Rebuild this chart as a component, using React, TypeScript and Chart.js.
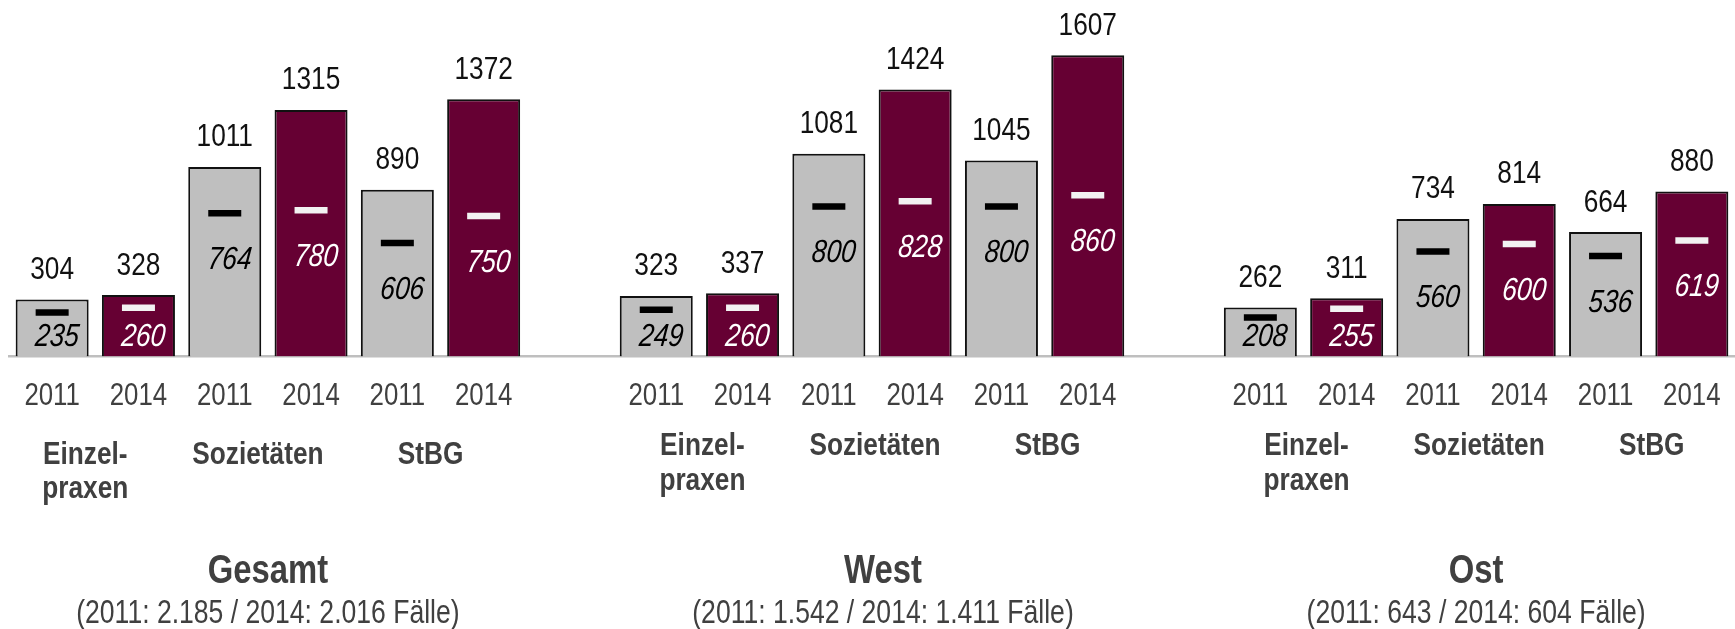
import React, { useEffect, useRef } from "react";
import { Chart, registerables } from "chart.js";

Chart.register(...registerables);

// ---- data ----
const groups = ["Gesamt", "West", "Ost"];
const groupCases = [
  "(2011: 2.185 / 2014: 2.016 Fälle)",
  "(2011: 1.542 / 2014: 1.411 Fälle)",
  "(2011: 643 / 2014: 604 Fälle)",
];
const practiceTypes = [["Einzel-", "praxen"], ["Sozietäten"], ["StBG"]];
const years = ["2011", "2014"];
// mean values, group-major: Gesamt (Einzel, Soz, StBG), West (...), Ost (...)
const mean2011 = [304, 1011, 890, 323, 1081, 1045, 262, 734, 664];
const mean2014 = [328, 1315, 1372, 337, 1424, 1607, 311, 814, 880];
// medians
const median2011 = [235, 764, 606, 249, 800, 800, 208, 560, 536];
const median2014 = [260, 780, 750, 260, 828, 860, 255, 600, 619];

// ---- styling / layout ----
const GRAY = "#BFBFBF";
const MAROON = "#660033";
const TEXT = "#404040";
const FONT = '"Liberation Sans", Arial, sans-serif';
const NARROW = 0.82; // horizontal compression -> Arial-Narrow-like text
const BASELINE_Y = 356.5;
const CANVAS_H = 629;
const catLabelShift = [
  { dx: -10, dy: 8.5 },
  { dx: 3, dy: 0 },
  { dx: 3, dy: 0 },
];
const titleShift = [0, 11, 0];

type Slot = { g: number; t: number; y: number } | null;
const slots: Slot[] = [];
groups.forEach((_, g) => {
  if (g > 0) slots.push(null);
  practiceTypes.forEach((_, t) => {
    years.forEach((_, y) => slots.push({ g, t, y }));
  });
});
const slotLabels = slots.map((s) => (s ? years[s.y] : ""));
const pick = (arr: number[], yi: number) =>
  slots.map((s) => (s && s.y === yi ? arr[s.g * 3 + s.t] : null));

function drawText(
  ctx: CanvasRenderingContext2D,
  text: string,
  x: number,
  y: number,
  o: { size: number; bold?: boolean; italic?: boolean; color: string; baseline?: CanvasTextBaseline }
) {
  ctx.save();
  ctx.translate(x, y);
  ctx.scale(NARROW, 1);
  if (o.italic) ctx.transform(1, 0, -0.12, 1, 0, 0);
  ctx.font = `${o.italic ? "italic " : ""}${o.bold ? "bold " : ""}${o.size}px ${FONT}`;
  ctx.fillStyle = o.color;
  ctx.textAlign = "center";
  ctx.textBaseline = o.baseline || "alphabetic";
  ctx.fillText(text, 0, 0);
  ctx.restore();
}

const textPlugin = {
  id: "textPlugin",
  afterDraw(chart: any) {
    const ctx: CanvasRenderingContext2D = chart.ctx;
    const xs = chart.scales.x;
    const bottom = chart.chartArea.bottom;
    // year labels under bars
    slotLabels.forEach((lab, i) => {
      if (!lab) return;
      drawText(ctx, lab, xs.getPixelForValue(i), 405, { size: 31.5, color: TEXT });
    });
    // values above bars
    [0, 1].forEach((di) => {
      const meta = chart.getDatasetMeta(di);
      meta.data.forEach((el: any, i: number) => {
        const v = chart.data.datasets[di].data[i];
        if (v == null) return;
        drawText(ctx, String(v), el.x, el.y - 20.5, { size: 32, color: "#111111" });
      });
    });
    // median labels
    [2, 3].forEach((di) => {
      const meta = chart.getDatasetMeta(di);
      meta.data.forEach((el: any, i: number) => {
        const v = chart.data.datasets[di].data[i];
        if (v == null) return;
        drawText(ctx, String(v), el.x + 5, Math.min(el.y + 47, bottom - 19), {
          size: 32,
          italic: true,
          color: di === 2 ? "#000000" : "#FFFFFF",
          baseline: "middle",
        });
      });
    });
    // category labels & group titles
    groups.forEach((gName, g) => {
      const idx = (t: number, y: number) =>
        slots.findIndex((s) => s && s.g === g && s.t === t && s.y === y);
      practiceTypes.forEach((lines, t) => {
        const x =
          (xs.getPixelForValue(idx(t, 0)) + xs.getPixelForValue(idx(t, 1))) / 2 +
          catLabelShift[g].dx;
        lines.forEach((ln, li) => {
          drawText(ctx, ln, x, 455 + catLabelShift[g].dy + li * 34.5, {
            size: 32,
            bold: true,
            color: TEXT,
          });
        });
      });
      const cx =
        (xs.getPixelForValue(idx(0, 0)) + xs.getPixelForValue(idx(2, 1))) / 2 + titleShift[g];
      drawText(ctx, gName, cx, 582.5, { size: 40, bold: true, color: TEXT });
      drawText(ctx, groupCases[g], cx, 623, { size: 32.4, color: TEXT });
    });
  },
};

export default function App() {
  const ref = useRef<HTMLCanvasElement | null>(null);
  useEffect(() => {
    if (!ref.current) return;
    const chart = new Chart(ref.current, {
      type: "bar",
      data: {
        labels: slotLabels,
        datasets: [
          {
            label: "Mittelwert 2011",
            data: pick(mean2011, 0),
            backgroundColor: GRAY,
            borderColor: "#111111",
            borderWidth: 2,
            skipNull: true,
            order: 2,
          } as any,
          {
            label: "Mittelwert 2014",
            data: pick(mean2014, 1),
            backgroundColor: MAROON,
            borderColor: "#111111",
            borderWidth: 2,
            skipNull: true,
            order: 2,
          } as any,
          {
            type: "line",
            label: "Median 2011",
            data: pick(median2011, 0),
            showLine: false,
            pointStyle: "line",
            pointRadius: 16.5,
            pointBorderWidth: 6.5,
            pointBorderColor: "#000000",
            pointBackgroundColor: "#000000",
            order: 1,
          } as any,
          {
            type: "line",
            label: "Median 2014",
            data: pick(median2014, 1),
            showLine: false,
            pointStyle: "line",
            pointRadius: 16.5,
            pointBorderWidth: 6.5,
            pointBorderColor: "#F2F2F2",
            pointBackgroundColor: "#F2F2F2",
            order: 1,
          } as any,
        ],
      },
      options: {
        animation: false,
        responsive: true,
        maintainAspectRatio: false,
        events: [],
        layout: { autoPadding: false, padding: { top: 19, left: 9, right: 0, bottom: 0 } },
        plugins: { legend: { display: false }, tooltip: { enabled: false } },
        datasets: { bar: { categoryPercentage: 1, barPercentage: 0.846 } },
        scales: {
          x: {
            offset: true,
            grid: { display: false, drawTicks: false },
            border: { display: true, color: GRAY, width: 2.5 },
            ticks: { display: false },
            afterFit: (axis: any) => {
              axis.height = CANVAS_H - BASELINE_Y;
              axis.paddingLeft = 0;
              axis.paddingRight = 0;
            },
          },
          y: { display: false, min: 0, max: 1800 },
        },
      },
      plugins: [textPlugin],
    });
    return () => chart.destroy();
  }, []);
  return (
    <div style={{ position: "absolute", left: 0, top: 0, width: 1735, height: CANVAS_H }}>
      <canvas ref={ref} />
    </div>
  );
}
